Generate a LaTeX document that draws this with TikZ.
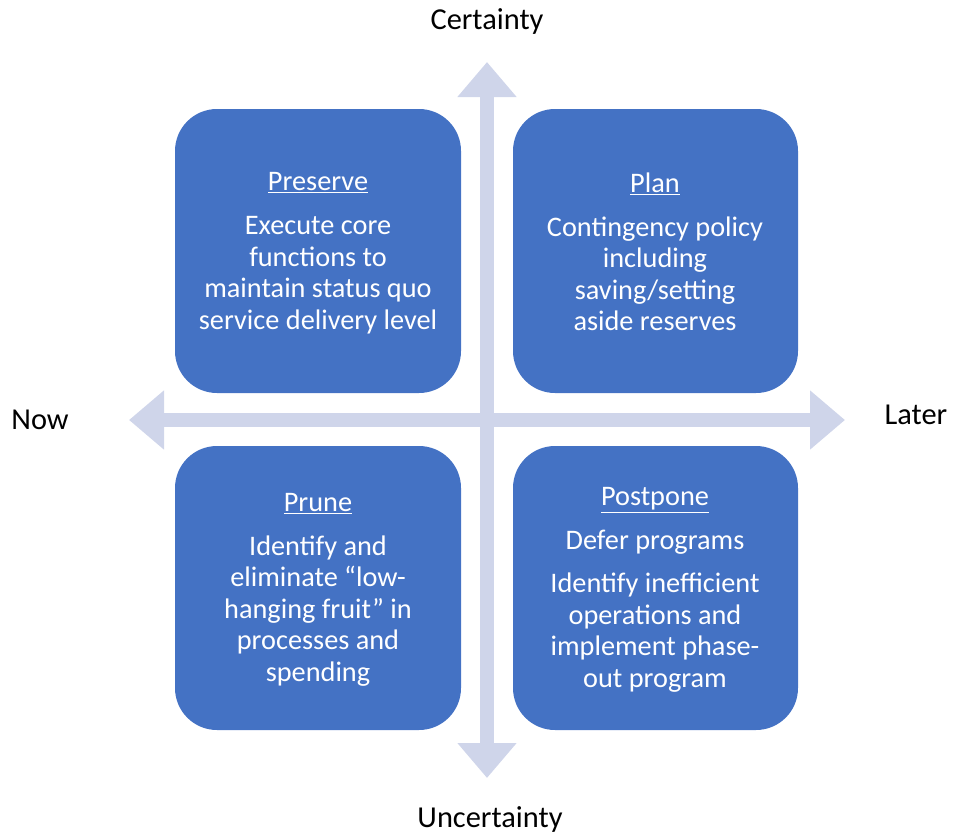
\documentclass[tikz,border=0pt]{standalone}
\usepackage{fontspec}
\setmainfont{Carlito}
\usetikzlibrary{arrows.meta}
\definecolor{boxblue}{RGB}{68,114,196}
\definecolor{axisgray}{RGB}{207,213,234}
\tikzset{
  quad/.style={fill=boxblue, draw=none, rounded corners=42pt},
  quadtext/.style={text=white, align=center, inner sep=0pt, font=\fontsize{28.3pt}{31.5pt}\selectfont},
  axislabel/.style={text=black, inner sep=0pt, font=\fontsize{30.4pt}{34pt}\selectfont},
  axisarrow/.style={draw=axisgray, line width=14pt, {Triangle[width=57pt,length=35pt]}-{Triangle[width=57pt,length=35pt]}},
}
\begin{document}
\begin{tikzpicture}[x=1pt,y=-1pt]
\useasboundingbox (0,0) rectangle (953,835);
% axes
\coordinate (top) at (487,62);
\coordinate (bottom) at (487,778);
\coordinate (left) at (129,420);
\coordinate (right) at (845,420);
\draw[axisarrow] (bottom) -- (top);
\draw[axisarrow] (left) -- (right);
% quadrants
\fill[quad] (175,109) rectangle (461,393);
\fill[quad] (513,109) rectangle (798,393);
\fill[quad] (175,446) rectangle (461,730);
\fill[quad] (513,446) rectangle (798,730);
\node[quadtext] (preserve) at (318,253) {\underline{Preserve}\\[13pt]Execute core\\functions to\\maintain status quo\\service delivery level};
\node[quadtext] (plan) at (655,252) {\underline{Plan}\\[12pt]Contingency policy\\including\\saving/setting\\aside reserves};
\node[quadtext] (prune) at (318,590) {\underline{Prune}\\[12pt]Identify and\\eliminate “low-\\hanging fruit” in\\processes and\\spending};
\node[quadtext] (postpone) at (655,590) {\underline{Postpone}\\[12pt]Defer programs\\[12pt]Identify inefficient\\operations and\\implement phase-\\out program};
% axis labels
\node[axislabel] (certainty) at (487,21) {Certainty};
\node[axislabel] (uncertainty) at (490,819) {Uncertainty};
\node[axislabel] (now) at (40,420) {Now};
\node[axislabel] (later) at (916,415) {Later};
\end{tikzpicture}
\end{document}
